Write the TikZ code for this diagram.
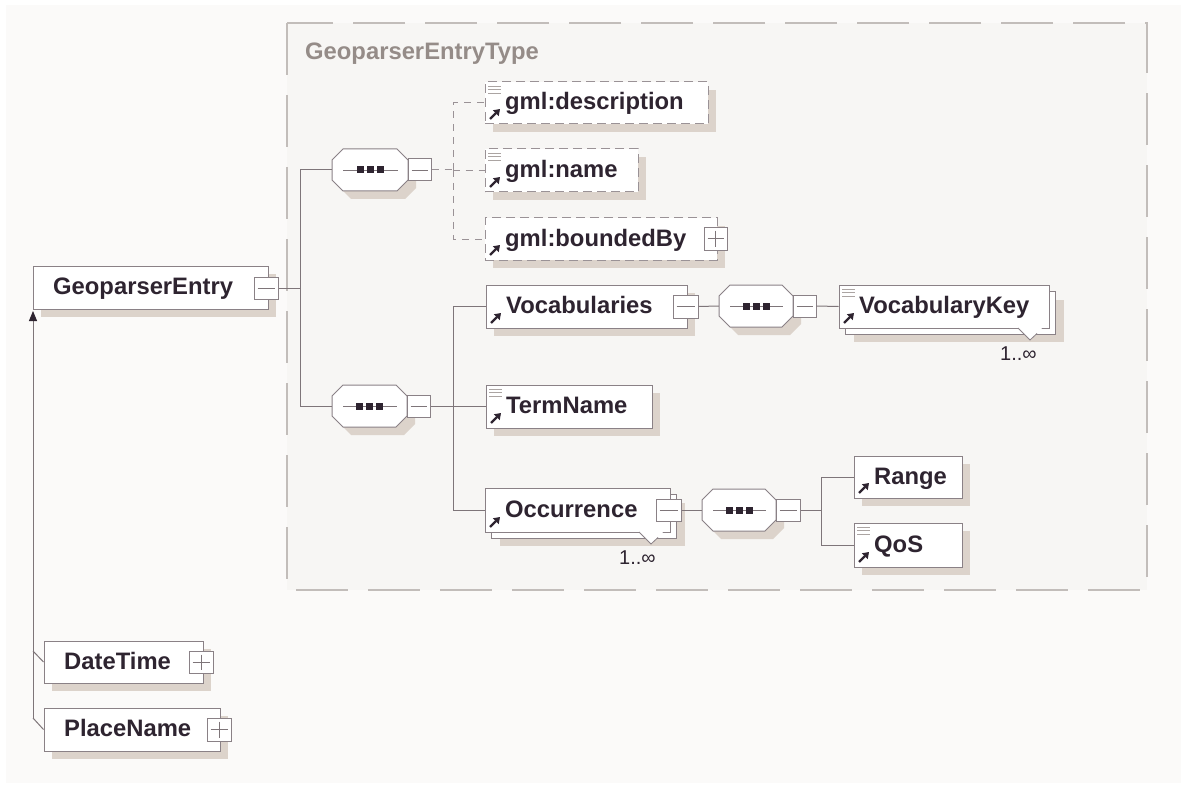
\documentclass[tikz,border=0pt]{standalone}
\usepackage{fontspec}
\setmainfont{Liberation Sans}
\usetikzlibrary{fit,arrows.meta}
\definecolor{txt}{HTML}{2E2430}
\definecolor{boxc}{HTML}{8A8186}
\definecolor{linec}{HTML}{7E7579}
\definecolor{dashc}{HTML}{9A9296}
\definecolor{shadowc}{HTML}{DCD3CB}
\definecolor{bgc}{HTML}{FBFAF9}
\definecolor{framec}{HTML}{C2BDBA}
\definecolor{framefill}{HTML}{F7F6F4}
\definecolor{titlec}{HTML}{958C88}
\definecolor{iconc}{HTML}{ABA4A2}
\tikzset{
 box/.style={draw=boxc, fill=white, line width=1pt, inner sep=0pt},
 dbox/.style={box, draw=dashc, dash pattern=on 9pt off 5pt},
 pm/.style={draw=boxc, fill=white, line width=1pt, inner sep=0pt},
 conn/.style={draw=linec, line width=1pt},
 dconn/.style={conn, draw=dashc, dash pattern=on 7pt off 6pt},
 lbl/.style={text=txt, font=\fontsize{23.8}{26}\selectfont\bfseries, inner sep=0pt},
 card/.style={text=txt, font=\fontsize{20}{22}\selectfont, inner sep=0pt},
 shd/.style={fill=shadowc},
}
\newcommand\elemS[6]{%
  \fill[shd] ({#3+8},{#4+8}) rectangle ({#5+8},{#6+8});
  \node[#1, fit={(#3,#4) (#5,#6)}] (#2) {};}
\newcommand\elemStack[5]{%
  \fill[shd] ({#2+15},{#3+15}) rectangle ({#4+15},{#5+14});
  \node[box, fit={({#2+6},{#3+6}) ({#4+6},{#5+6})}] (#1-back) {};
  \node[box, fit={(#2,#3) (#4,#5)}] (#1) {};
  \fill[white] ({#4-31},{#5}) -- ({#4-19},{#5+12}) -- ({#4-7},{#5}) -- cycle;
  \draw[boxc, line width=0.8pt] ({#4-31},{#5}) -- ({#4-19},{#5+12}) -- ({#4-12},{#5+5.5});}
\newcommand\lab[5]{%
  \node[lbl, anchor=base west] (#1-t) at ({#2+20},{(#3+#4)/2+7}) {#5};}
\newcommand\refarrow[2]{%
  \draw[txt, line width=2.2pt, -{Triangle[length=6pt,width=8pt]}] ({#1+5},{#2-5}) -- ({#1+15},{#2-15});}
\newcommand\docicon[2]{%
  \foreach \d in {4,7.5,11} \draw[iconc, line width=0.8pt] ({#1+3},{#2+\d}) -- ({#1+16},{#2+\d});}
\newcommand\minusb[5]{%
  \node[pm, fit={(#2,#3) (#4,#5)}] (#1) {};
  \draw[linec, line width=0.8pt] ([xshift=4pt]#1.west) -- ([xshift=-4pt]#1.east);}
\newcommand\plusb[5]{%
  \minusb{#1}{#2}{#3}{#4}{#5}%
  \draw[linec, line width=0.8pt] ([yshift=-4pt]#1.north) -- ([yshift=4pt]#1.south);}
\newcommand\octo[6]{%
  \path[#1] ({#2+11},{#3}) -- ({#4-11},{#3}) -- ({#4},{#3+11}) -- ({#4},{#5-11}) -- ({#4-11},{#5}) -- ({#2+11},{#5}) -- ({#2},{#5-11}) -- ({#2},{#3+11}) -- cycle;}
\newcommand\seqc[5]{%
  \octo{shd}{#2+8}{#3+8}{#4+8}{#5+8}{}%
  \octo{draw=boxc, fill=white, line width=1pt}{#2}{#3}{#4}{#5}{}%
  \node[inner sep=0pt, fit={(#2,#3) (#4,#5)}] (#1) {};
  \draw[linec, line width=0.8pt] ({#2+11},{(#3+#5)/2}) -- ({#4-10},{(#3+#5)/2});
  \foreach \k in {-10,0,10} \fill[txt] ({(#2+#4)/2+\k-3.5},{(#3+#5)/2-3.5}) rectangle +(7,7);}
\begin{document}
\begin{tikzpicture}[x=1pt,y=-1pt]
\useasboundingbox (0,0) rectangle (1187,789);
\fill[white] (0,0) rectangle (1187,789);
\fill[bgc] (6,5) rectangle (1181,783);
\draw[framec, fill=framefill, line width=1.2pt, dash pattern=on 52pt off 20pt] (287,23) rectangle (1147,590);
\node[text=titlec, font=\fontsize{23.8}{26}\selectfont\bfseries, inner sep=0pt, anchor=base west] (title) at (305,60) {GeoparserEntryType};

% GeoparserEntry
\elemS{box}{ge}{33}{266}{268}{309}
\lab{ge}{33}{266}{309}{GeoparserEntry}
\minusb{ge-m}{254}{277}{278}{299}

% first sequence and gml elements
\seqc{s1}{332}{149}{408}{191}
\minusb{s1-m}{408}{159}{431}{181}
\elemS{dbox}{desc}{485}{82}{708}{124}
\lab{desc}{485}{82}{124}{gml:description}
\docicon{485}{82}\refarrow{485}{124}
\elemS{dbox}{gname}{485}{149}{638}{192}
\lab{gname}{485}{149}{192}{gml:name}
\docicon{485}{149}\refarrow{485}{192}
\elemS{dbox}{bb}{485}{218}{717}{260}
\lab{bb}{485}{218}{260}{gml:boundedBy}
\refarrow{485}{260}
\plusb{bb-p}{704}{227}{727}{250}

% second sequence
\seqc{s2}{332}{385}{407}{427}
\minusb{s2-m}{407}{395}{430}{417}
\elemS{box}{voc}{486}{285}{687}{328}
\lab{voc}{486}{285}{328}{Vocabularies}
\refarrow{486}{328}
\minusb{voc-m}{673}{295}{698}{318}
\seqc{s3}{719}{285}{793}{327}
\minusb{s3-m}{793}{295}{816}{317}
\elemStack{vk}{839}{285}{1049}{328}
\lab{vk}{839}{285}{328}{VocabularyKey}
\docicon{839}{285}\refarrow{839}{328}
\node[card, anchor=base west] (vk-c) at (1000,360) {1..∞};

\elemS{box}{term}{486}{385}{652}{428}
\lab{term}{486}{385}{428}{TermName}
\docicon{486}{385}\refarrow{486}{428}

\elemStack{occ}{485}{488}{670}{532}
\lab{occ}{485}{488}{532}{Occurrence}
\refarrow{485}{532}
\minusb{occ-m}{656}{499}{681}{521}
\node[card, anchor=base west] (occ-c) at (619,564) {1..∞};
\seqc{s4}{702}{489}{776}{531}
\minusb{s4-m}{776}{499}{800}{521}
\elemS{box}{range}{854}{456}{962}{498}
\lab{range}{854}{456}{498}{Range}
\refarrow{854}{498}
\elemS{box}{qos}{854}{523}{962}{567}
\lab{qos}{854}{523}{567}{QoS}
\docicon{854}{523}\refarrow{854}{567}

% DateTime / PlaceName
\elemS{box}{dt}{44}{641}{203}{683}
\lab{dt}{44}{641}{683}{DateTime}
\plusb{dt-p}{189}{651}{213}{673}
\elemS{box}{pn}{44}{708}{220}{751}
\lab{pn}{44}{708}{751}{PlaceName}
\plusb{pn-p}{207}{718}{231}{741}

% connectors
\coordinate (v1) at (300,288);
\draw[conn] (ge-m.east) -- (v1);
\draw[conn] (v1) |- (s1.west);
\draw[conn] (v1) |- (s2.west);
\coordinate (v2) at (453,170);
\draw[dconn] (s1-m.east) -- (v2);
\draw[dconn] (v2) |- (desc.west);
\draw[dconn] (v2) |- (gname.west);
\draw[dconn] (v2) |- (bb.west);
\coordinate (v3) at (453,406);
\draw[conn] (s2-m.east) -- (v3);
\draw[conn] (v3) |- (voc.west);
\draw[conn] (v3) -- (term.west |- v3);
\draw[conn] (v3) |- (occ.west);
\draw[conn] (voc-m.east) -- (s3.west);
\draw[conn] (s3-m.east) -- (vk.west);
\draw[conn] (occ-m.east) -- (s4.west);
\coordinate (v4) at (821,510);
\draw[conn] (s4-m.east) -- (v4);
\draw[conn] (v4) |- (range.west);
\draw[conn] (v4) |- (qos.west);
\coordinate (j1) at (33,651);
\coordinate (j2) at (33,718);
\coordinate (gtip) at (33,311);
\draw[conn] (dt.west) -- (j1);
\draw[conn] (pn.west) -- (j2);
\draw[conn, -{Triangle[length=10pt,width=8pt,fill=txt,color=txt]}] (j2) -- (gtip);
\end{tikzpicture}
\end{document}
